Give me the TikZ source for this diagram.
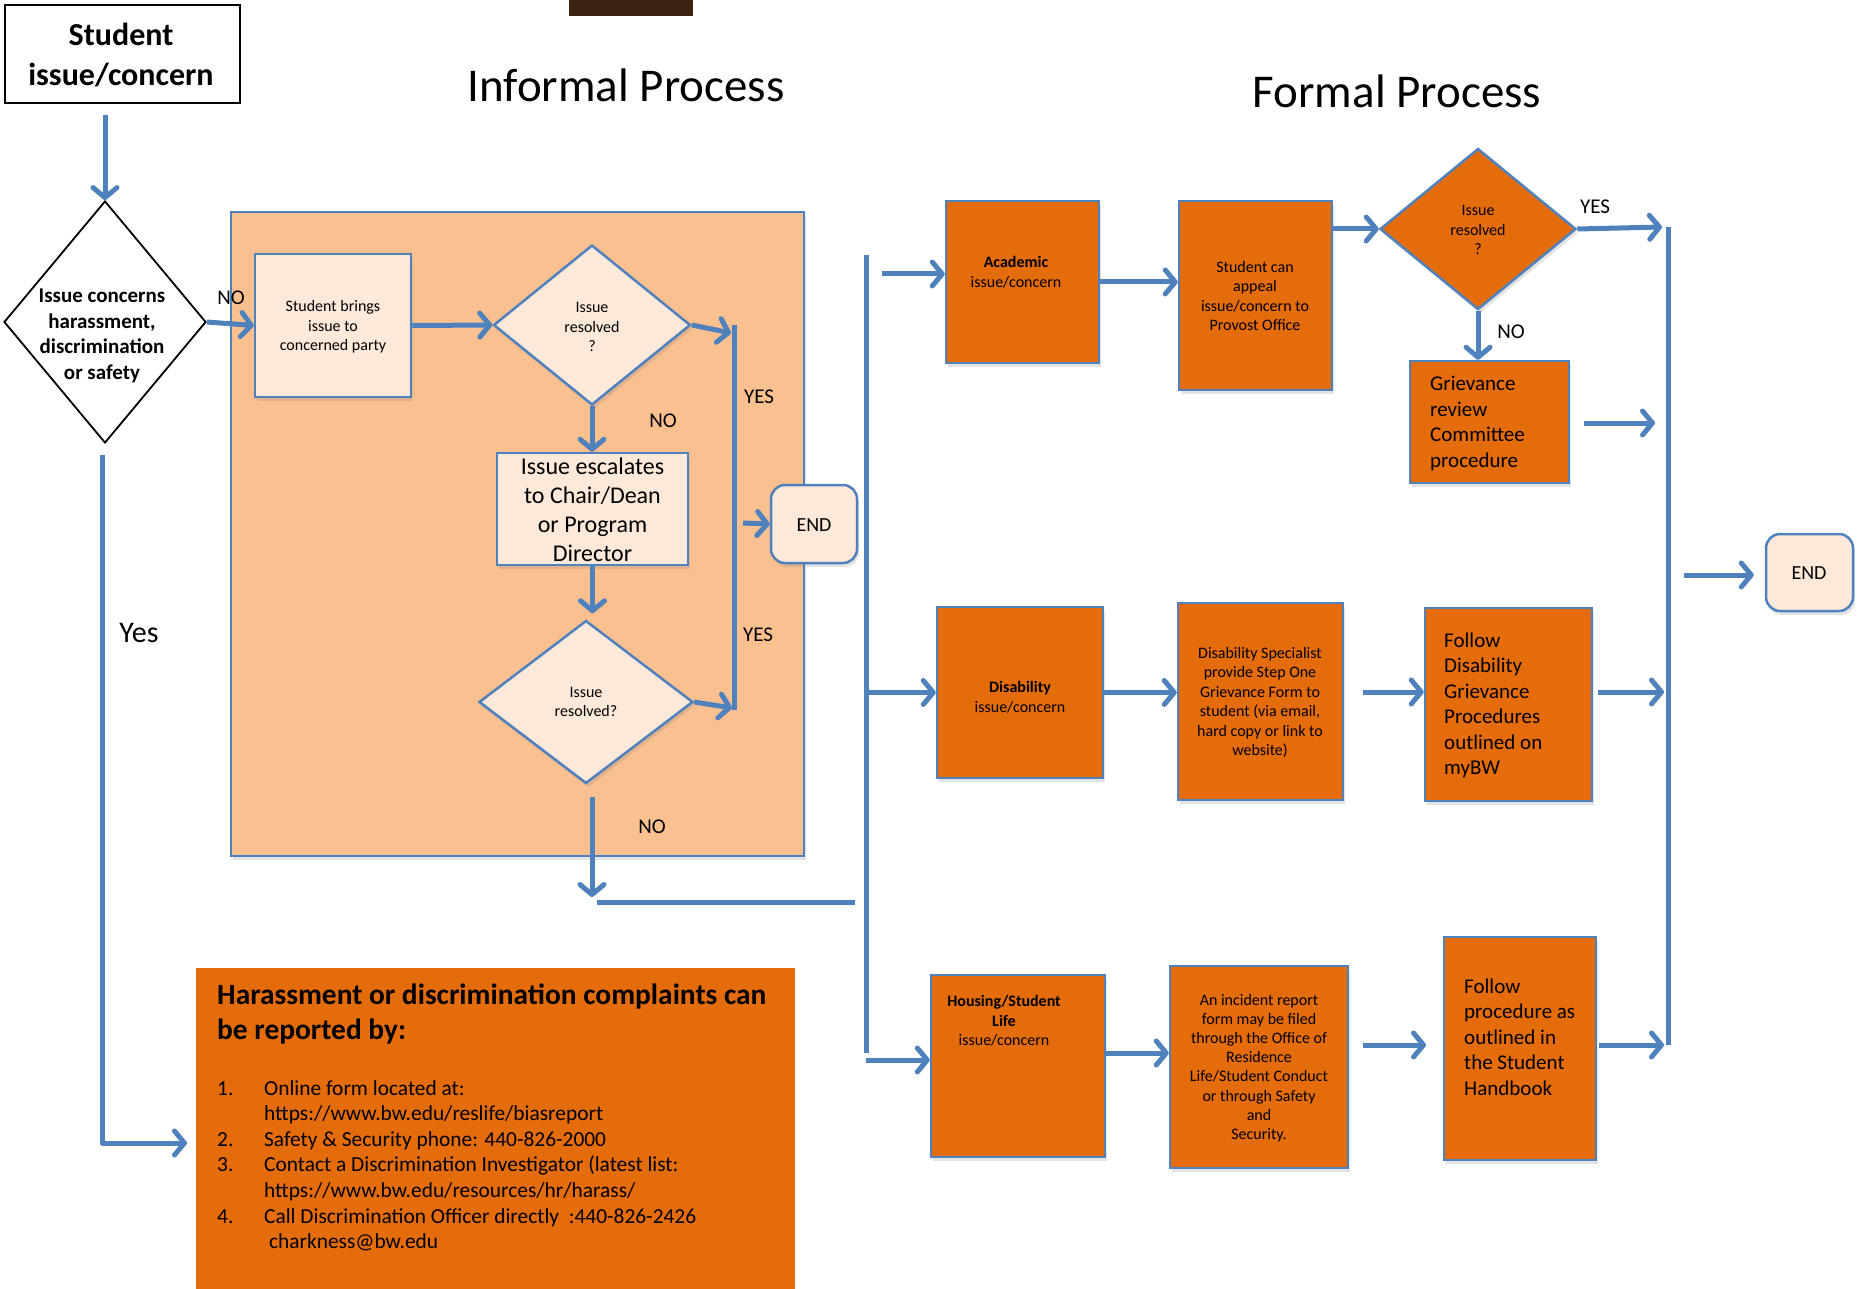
\documentclass[tikz,border=0pt]{standalone}
\usepackage{fontspec}
\setmainfont{Carlito}
\usetikzlibrary{arrows.meta,shapes.geometric,shadows}
\definecolor{lblue}{HTML}{4F81BD}
\definecolor{dorange}{HTML}{E46C0A}
\definecolor{mpeach}{HTML}{FAC090}
\definecolor{lpeach}{HTML}{FDE9D9}
\definecolor{dbrown}{HTML}{3D2410}
\begin{document}
\begin{tikzpicture}[x=1pt,y=-1pt,
  arr/.style={draw=lblue, line width=5pt, line join=round, -{Straight Barb[length=10pt,width=24pt,round]}},
  ln/.style={draw=lblue, line width=5pt},
  shad/.style={drop shadow={shadow xshift=2pt, shadow yshift=-4pt, opacity=0.22}},
  obox/.style={shape=rectangle, draw=lblue, line width=2.5pt, fill=dorange, inner sep=0pt, shad},
  pbox/.style={shape=rectangle, draw=lblue, line width=2.5pt, fill=lpeach, inner sep=0pt, shad},
  odia/.style={shape=diamond, draw=lblue, line width=2.5pt, fill=dorange, inner sep=0pt, shad},
  pdia/.style={shape=diamond, draw=lblue, line width=2.5pt, fill=lpeach, inner sep=0pt, shad},
  endbox/.style={pbox, rounded corners=14pt},
  txt/.style={inner sep=0pt, align=center, font=\fontsize{16}{19.5}\selectfont},
  big/.style={inner sep=0pt, align=left, font=\fontsize{21}{25.5}\selectfont},
  lab/.style={inner sep=0pt, font=\fontsize{21}{25}\selectfont},
  ttl/.style={inner sep=0pt, font=\fontsize{47}{56}\selectfont}
]
\useasboundingbox (0,0) rectangle (1863,1289);
\fill[white] (0,0) rectangle (1863,1289);

% top artefact
\fill[dbrown] (569,0) rectangle (693,16);

% titles
\node[ttl] (t1) at (626,85) {Informal Process};
\node[ttl] (t2) at (1397,91) {Formal Process};

% start
\node[draw=black, line width=2.5pt, fill=white, minimum width=235pt, minimum height=98pt, inner sep=0pt] (stu) at (122.5,54) {};
\node[inner sep=0pt, align=center, font=\bfseries\fontsize{32}{40}\selectfont] (stut) at (121,55) {Student\\issue/concern};

\node[shape=diamond, draw=black, line width=1.8pt, fill=white, inner sep=0pt, minimum width=202pt, minimum height=242pt] (d1) at (105,322) {};
\node[inner sep=0pt, align=center, font=\bfseries\fontsize{21}{25.5}\selectfont] (d1t) at (102,336) {Issue concerns\\harassment,\\discrimination\\or safety};

% informal area
\node[shape=rectangle, draw=lblue, line width=2.5pt, fill=mpeach, minimum width=573pt, minimum height=644pt, inner sep=0pt, shad] (inf) at (517.5,534) {};

\node[pbox, minimum width=156pt, minimum height=143pt] (brings) at (333,325.5) {};
\node[txt] (bringst) at (333,327) {Student brings\\issue to\\concerned party};

\node[pdia, minimum width=197pt, minimum height=160pt] (d2) at (592,325) {};
\node[txt] (d2t) at (592,327) {Issue\\resolved\\?};

\node[pbox, minimum width=191pt, minimum height=112pt] (esc) at (592.5,509) {};
\node[inner sep=0pt, align=center, font=\fontsize{24}{29}\selectfont] (esct) at (592.5,510) {Issue escalates\\to Chair/Dean\\or Program\\Director};

\node[pdia, minimum width=214pt, minimum height=163pt] (d3) at (586,702) {};
\node[txt] (d3t) at (586,702) {Issue\\resolved?};

\node[endbox, minimum width=86pt, minimum height=78pt] (end1) at (814,524) {};
\node[lab, font=\fontsize{20}{24}\selectfont] (end1t) at (814,525) {END};

% formal: academic row
\node[obox, minimum width=153pt, minimum height=162pt] (acad) at (1022.5,282) {};
\node[txt] (acadt) at (1016,272) {\textbf{Academic}\\issue/concern};

\node[obox, minimum width=153pt, minimum height=189pt] (appeal) at (1255.5,295.5) {};
\node[txt] (appealt) at (1255,296) {Student can\\appeal\\issue/concern to\\Provost Office};

\node[odia, minimum width=196pt, minimum height=161pt] (d4) at (1478,229) {};
\node[txt] (d4t) at (1478,230) {Issue\\resolved\\?};

\node[obox, minimum width=159pt, minimum height=122pt] (griev) at (1489.5,422) {};
\node[big, anchor=west] (grievt) at (1430,423.5) {Grievance\\review\\Committee\\procedure};

% disability row
\node[obox, minimum width=166pt, minimum height=171pt] (dis) at (1020,692.5) {};
\node[txt] (dist) at (1020,697) {\textbf{Disability}\\issue/concern};

\node[obox, minimum width=165pt, minimum height=197pt] (spec) at (1260.5,701.5) {};
\node[txt] (spect) at (1260,702.5) {Disability Specialist\\provide Step One\\Grievance Form to\\student (via email,\\hard copy or link to\\website)};

\node[obox, minimum width=167pt, minimum height=193pt] (fdis) at (1508.5,704.5) {};
\node[big, anchor=west] (fdist) at (1444,705.5) {Follow\\Disability\\Grievance\\Procedures\\outlined on\\myBW};

% housing row
\node[obox, minimum width=174pt, minimum height=182pt] (hou) at (1018,1066) {};
\node[txt] (hout) at (1004,1021) {\textbf{Housing/Student}\\\textbf{Life}\\issue/concern};

\node[obox, minimum width=178pt, minimum height=202pt] (inc) at (1259,1067) {};
\node[txt, font=\fontsize{16}{19.2}\selectfont] (inct) at (1259,1068) {An incident report\\form may be filed\\through the Office of\\Residence\\Life/Student Conduct\\or through Safety\\and\\Security.};

\node[obox, minimum width=152pt, minimum height=223pt] (fproc) at (1520,1048.5) {};
\node[big, anchor=west] (fproct) at (1464,1037) {Follow\\procedure as\\outlined in\\the Student\\Handbook};

\node[endbox, minimum width=87pt, minimum height=77pt] (end2) at (1809.5,572.5) {};
\node[lab, font=\fontsize{20}{24}\selectfont] (end2t) at (1809,573) {END};

% harassment box
\node[shape=rectangle, fill=dorange, minimum width=599pt, minimum height=321pt, inner sep=0pt] (harass) at (495.5,1128.5) {};
\node[anchor=north west, inner sep=0pt, align=left, font=\bfseries\fontsize{29.4}{35}\selectfont] (htitle) at (217,984) {Harassment or discrimination complaints can\\be reported by:};
\node[anchor=north west, inner sep=0pt, align=left, font=\fontsize{21.4}{25.6}\selectfont] (hlist) at (217,1080) {%
\makebox[47pt][l]{1.}Online form located at:\\
\makebox[47pt][l]{}https://www.bw.edu/reslife/biasreport\\
\makebox[47pt][l]{2.}Safety \& Security phone: 440-826-2000\\
\makebox[47pt][l]{3.}Contact a Discrimination Investigator (latest list:\\
\makebox[47pt][l]{}https://www.bw.edu/resources/hr/harass/\\
\makebox[47pt][l]{4.}Call Discrimination Officer directly\ \ :440-826-2426\\
\makebox[47pt][l]{}\ charkness@bw.edu};

% labels
\node[lab] (no1) at (231,298) {NO};
\node[lab] (yes1) at (759,397) {YES};
\node[lab] (no2) at (663,421) {NO};
\node[lab] (yes2) at (758,635) {YES};
\node[lab] (no3) at (652,827) {NO};
\node[lab] (yes3) at (1595,207) {YES};
\node[lab] (no4) at (1511,332) {NO};
\node[inner sep=0pt, font=\fontsize{30}{36}\selectfont] (yesl) at (139,633) {Yes};

% coordinates for free ends
\coordinate (yt) at (734,325);
\coordinate (yb) at (734,710);
\coordinate (yin1) at (731,333);
\coordinate (yin2) at (732,708);
\coordinate (ein) at (743,523);
\coordinate (nob) at (592,897);
\coordinate (hl1) at (597,902);
\coordinate (hl2) at (855,902);
\coordinate (fv1) at (866,255);
\coordinate (fv2) at (866,1053);
\coordinate (a1) at (882,274);
\coordinate (a3) at (866,1060);
\coordinate (rt) at (1668,227);
\coordinate (rb) at (1668,1045);
\coordinate (yin3) at (1662,227);
\coordinate (g1) at (1584,423);
\coordinate (g2) at (1655,423);
\coordinate (s1) at (1363,692);
\coordinate (f1) at (1598,692);
\coordinate (f2) at (1664,692);
\coordinate (h1) at (1105,1053);
\coordinate (i1) at (1363,1045);
\coordinate (i2) at (1426,1045);
\coordinate (p1) at (1599,1045);
\coordinate (p2) at (1664,1045);
\coordinate (e2) at (1684,575);
\coordinate (ly) at (102,455);
\coordinate (lc) at (102,1143);
\coordinate (lt) at (187,1143);

% connectors informal
\draw[arr, shorten <=11pt] (d1.north |- stu.south) -- (d1.north);
\draw[arr] (d1.east) -- (brings.west);
\draw[arr] (brings.east) -- (d2.west);
\draw[ln] (yt) -- (yb);
\draw[arr] (d2.east) -- (yin1);
\draw[arr] (d2.south) -- (d2.south |- esc.north);
\draw[arr, shorten >=6pt] (esc.south) -- (esc.south |- d3.north);
\draw[arr] (d3.east) -- (yin2);
\draw[arr] (ein) -- (end1.west);
\draw[arr, shorten <=12pt] (nob |- d3.south) -- (nob);
\draw[ln] (hl1) -- (hl2);

% connectors formal
\draw[ln] (fv1) -- (fv2);
\draw[arr] (a1) -- (acad.west |- a1);
\draw[arr] (fv1 |- dis.west) -- (dis.west);
\draw[arr] (a3) -- (hou.west |- a3);
\draw[arr] (acad.east) -- (acad.east -| appeal.west);
\draw[arr] (appeal.east |- d4.west) -- (d4.west);
\draw[ln] (rt) -- (rb);
\draw[arr] (d4.east) -- (yin3);
\draw[arr] (d4.south) -- (d4.south |- griev.north);
\draw[arr] (g1) -- (g2);
\draw[arr] (dis.east) -- (dis.east -| spec.west);
\draw[arr] (s1) -- (s1 -| fdis.west);
\draw[arr] (f1) -- (f2);
\draw[arr] (hou.east |- h1) -- (inc.west |- h1);
\draw[arr] (i1) -- (i2);
\draw[arr] (p1) -- (p2);
\draw[arr, shorten >=11pt] (e2) -- (e2 -| end2.west);

% yes path to harassment box
\draw[arr] (ly) -- (lc) -- (lt);
\end{tikzpicture}
\end{document}
